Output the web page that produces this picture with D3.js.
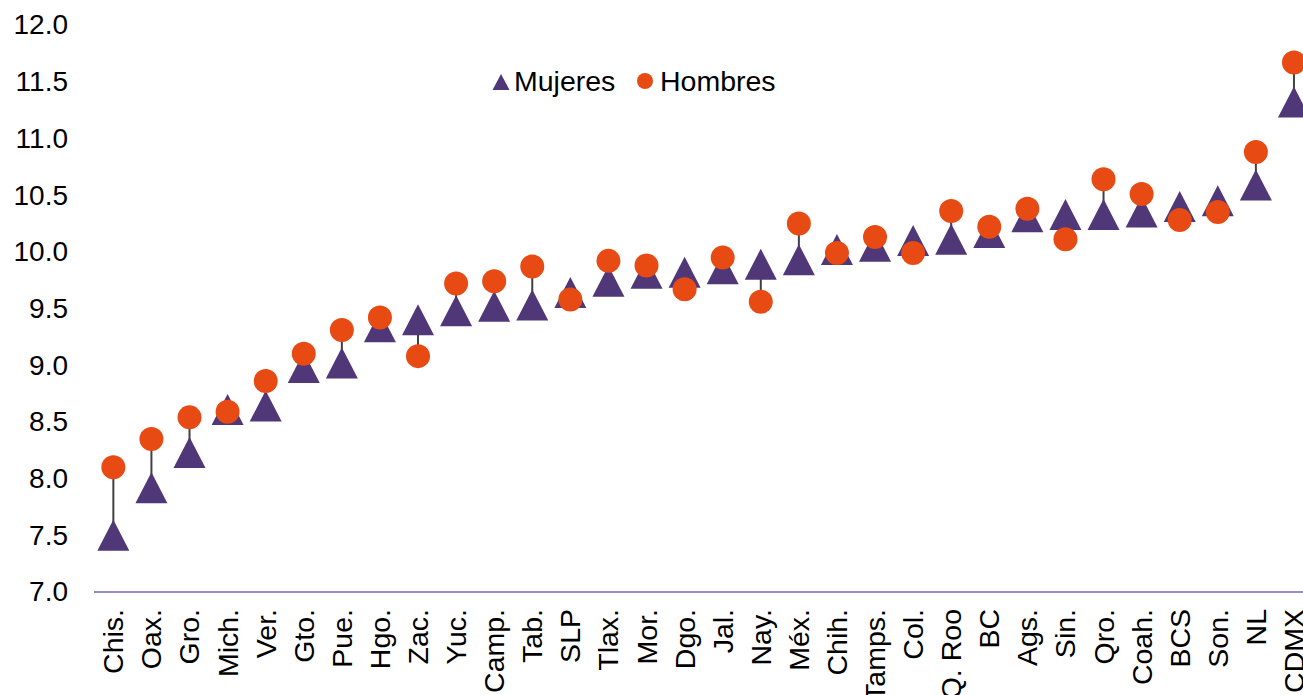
<!DOCTYPE html>
<html><head><meta charset="utf-8">
<script src="https://cdn.jsdelivr.net/npm/d3@7"></script>
<style>
html,body{margin:0;padding:0;background:#fff;}
svg{display:block;font-family:"Liberation Sans",Arial,sans-serif;}
</style></head>
<body><svg id="c" width="1303" height="695"></svg>
<script>
const categories = ["Chis.","Oax.","Gro.","Mich.","Ver.","Gto.","Pue.","Hgo.","Zac.","Yuc.","Camp.","Tab.","SLP","Tlax.","Mor.","Dgo.","Jal.","Nay.","Méx.","Chih.","Tamps.","Col.","Q. Roo","BC","Ags.","Sin.","Qro.","Coah.","BCS","Son.","NL","CDMX"];
const mujeres = [7.50,7.92,8.23,8.61,8.64,8.98,9.02,9.34,9.40,9.48,9.52,9.53,9.64,9.74,9.81,9.82,9.85,9.89,9.93,10.02,10.05,10.10,10.11,10.17,10.31,10.33,10.33,10.35,10.40,10.45,10.59,11.32];
const hombres = [8.10,8.35,8.54,8.59,8.86,9.10,9.31,9.42,9.08,9.72,9.74,9.87,9.58,9.92,9.88,9.67,9.95,9.56,10.25,9.99,10.13,9.99,10.36,10.22,10.38,10.11,10.64,10.51,10.28,10.35,10.88,11.67];
const yTicks = [7.0,7.5,8.0,8.5,9.0,9.5,10.0,10.5,11.0,11.5,12.0];
const seriesNames = ["Mujeres","Hombres"];

const colM = "#4f3778", colH = "#e84a13";
const svg = d3.select("#c");
const x = d3.scaleBand().domain(categories).range([94.3, 1313]).padding(0);
const y = d3.scaleLinear().domain([7, 12]).range([592, 25]);
const cx = d => x(d) + x.bandwidth()/2;

// y labels
const ya = svg.append("g").attr("transform","translate(68,0)")
  .call(d3.axisLeft(y).tickValues(yTicks).tickFormat(d3.format(".1f")).tickSize(0).tickPadding(0));
ya.select(".domain").remove();
ya.selectAll("text").attr("font-size",28).attr("font-family","Liberation Sans, Arial, sans-serif").attr("fill","#000");

// x axis line
svg.append("line").attr("x1",94).attr("x2",1303).attr("y1",y(7)).attr("y2",y(7))
  .attr("stroke","#9b86d0").attr("stroke-width",2);

// x labels
svg.append("g").selectAll("text").data(categories).join("text")
  .attr("transform",d=>`translate(${cx(d)},609) rotate(-90)`)
  .attr("text-anchor","end").attr("dy","0.35em")
  .attr("font-size",28.5).attr("fill","#000").text(d=>d);

const data = categories.map((c,i)=>({c, m:mujeres[i], h:hombres[i]}));

// connectors
svg.append("g").selectAll("line").data(data).join("line")
  .attr("x1",d=>cx(d.c)).attr("x2",d=>cx(d.c))
  .attr("y1",d=>y(d.m)).attr("y2",d=>y(d.h))
  .attr("stroke","#404040").attr("stroke-width",2);

const tri = (px,py,w,h)=>`M${px-w/2},${py+h/2}L${px},${py-h/2}L${px+w/2},${py+h/2}Z`;
svg.append("g").selectAll("path").data(data).join("path")
  .attr("d",d=>tri(cx(d.c),y(d.m),32,31)).attr("fill",colM);
svg.append("g").selectAll("circle").data(data).join("circle")
  .attr("cx",d=>cx(d.c)).attr("cy",d=>y(d.h)).attr("r",12).attr("fill",colH);

// legend
const lg = svg.append("g");
lg.append("path").attr("d",tri(501,82,17,16)).attr("fill",colM);
lg.append("text").attr("x",514).attr("y",91).attr("font-size",28.5).text(seriesNames[0]);
lg.append("circle").attr("cx",645).attr("cy",81).attr("r",8).attr("fill",colH);
lg.append("text").attr("x",660).attr("y",91).attr("font-size",28.5).text(seriesNames[1]);
</script></body></html>
